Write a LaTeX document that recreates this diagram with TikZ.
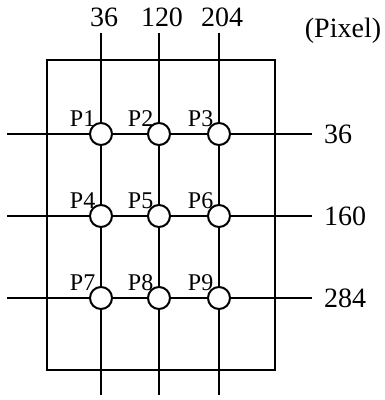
\documentclass[tikz,border=0pt]{standalone}
\usepackage{fontspec}
\setmainfont{Liberation Serif}
\usepackage{tikz}
\usetikzlibrary{positioning}

\begin{document}
\begin{tikzpicture}[x=1pt, y=-1pt,
  pin/.style={circle, draw, fill=white, minimum size=22pt, inner sep=0pt, line width=2pt},
  wire/.style={line width=2pt},
  tag/.style={font=\fontsize{24}{24}\selectfont, inner sep=0pt, xshift=3pt, yshift=-1pt},
  axis/.style={font=\fontsize{28}{28}\selectfont, inner sep=0pt}
]
\useasboundingbox (0,0) rectangle (385,400);

\node[draw, line width=2pt, minimum width=228pt, minimum height=310pt, inner sep=0pt, anchor=north west] (frame) at (46,59) {};

\node[pin, label={[tag]above left:P1}] (p1) at (101,134) {};
\node[pin, label={[tag]above left:P2}] (p2) at (159,134) {};
\node[pin, label={[tag]above left:P3}] (p3) at (219,134) {};
\node[pin, label={[tag]above left:P4}] (p4) at (101,216) {};
\node[pin, label={[tag]above left:P5}] (p5) at (159,216) {};
\node[pin, label={[tag]above left:P6}] (p6) at (219,216) {};
\node[pin, label={[tag]above left:P7}] (p7) at (101,298) {};
\node[pin, label={[tag]above left:P8}] (p8) at (159,298) {};
\node[pin, label={[tag]above left:P9}] (p9) at (219,298) {};

% line ends
\coordinate (t1) at (101,33);  \coordinate (b1) at (101,395);
\coordinate (t2) at (159,33);  \coordinate (b2) at (159,395);
\coordinate (t3) at (219,33);  \coordinate (b3) at (219,395);
\coordinate (l1) at (7,134);   \coordinate (r1) at (312,134);
\coordinate (l2) at (7,216);   \coordinate (r2) at (312,216);
\coordinate (l3) at (7,298);   \coordinate (r3) at (312,298);

\draw[wire] (t1) -- (p1) -- (p4) -- (p7) -- (b1);
\draw[wire] (t2) -- (p2) -- (p5) -- (p8) -- (b2);
\draw[wire] (t3) -- (p3) -- (p6) -- (p9) -- (b3);
\draw[wire] (l1) -- (p1) -- (p2) -- (p3) -- (r1);
\draw[wire] (l2) -- (p4) -- (p5) -- (p6) -- (r2);
\draw[wire] (l3) -- (p7) -- (p8) -- (p9) -- (r3);

% pixel values
\node[axis, above=6pt of t1, xshift=3pt] (x1) {36};
\node[axis, above=6pt of t2, xshift=3pt] (x2) {120};
\node[axis, above=6pt of t3, xshift=3pt] (x3) {204};
\node[axis, right=12pt of r1] (y1) {36};
\node[axis, right=12pt of r2] (y2) {160};
\node[axis, right=12pt of r3] (y3) {284};
\node[axis, anchor=base] (unit) at (343,37) {(Pixel)};

\end{tikzpicture}
\end{document}
